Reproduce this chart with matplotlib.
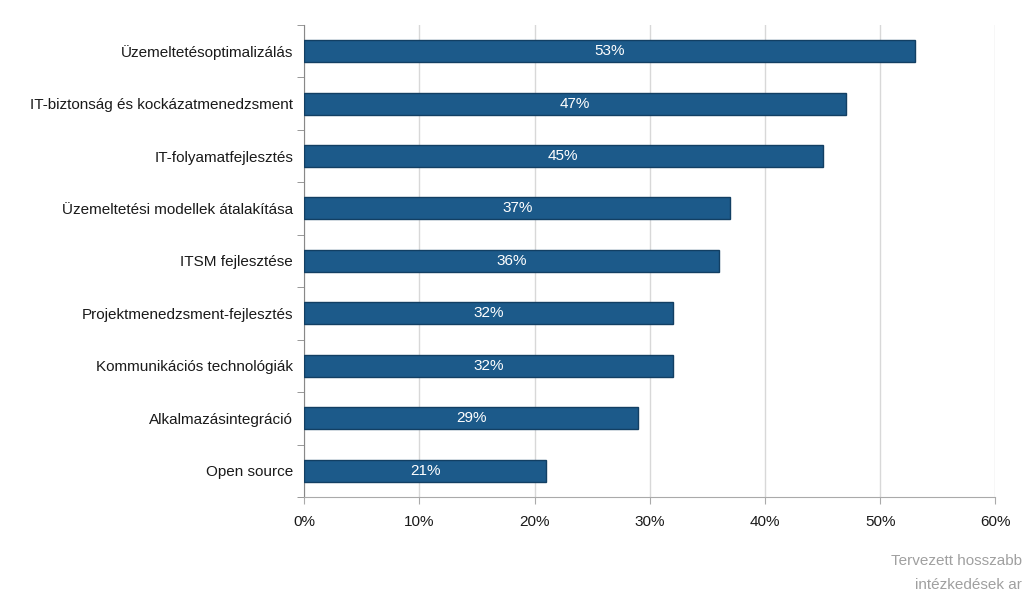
import numpy as np
import matplotlib.pyplot as plt

plt.rcParams['font.family'] = ['Liberation Sans', 'DejaVu Sans']

# ── data ──────────────────────────────────────────────────────────────────────
categories = [
    'Üzemeltetésoptimalizálás',
    'IT-biztonság és kockázatmenedzsment',
    'IT-folyamatfejlesztés',
    'Üzemeltetési modellek átalakítása',
    'ITSM fejlesztése',
    'Projektmenedzsment-fejlesztés',
    'Kommunikációs technológiák',
    'Alkalmazásintegráció',
    'Open source',
]
values = [53, 47, 45, 37, 36, 32, 32, 29, 21]
xticks = [0, 10, 20, 30, 40, 50, 60]
footer = ['Tervezett hosszabb', 'intézkedések ar']

bar_col = '#1c5a8a'
edge_col = '#123f63'

fig = plt.figure(figsize=(10.24, 5.92), dpi=100)
ax = fig.add_axes([0.297, 0.1605, 0.675, 0.7975])

y = np.arange(len(categories))
ax.barh(y, values, height=0.42, color=bar_col, edgecolor=edge_col,
        linewidth=1.0, zorder=3)

for yi, v in zip(y, values):
    ax.text(v / 2, yi, f'{v}%', ha='center', va='center', color='white',
            fontsize=11, zorder=4)

ax.set_ylim(len(categories) - 0.5, -0.5)
ax.set_xlim(0, 60)
ax.set_yticks(y)
ax.set_yticklabels(categories, fontsize=11, color='#1a1a1a')
ax.tick_params(axis='y', which='major', length=0, pad=8)
# ticks between categories
ax.set_yticks(np.arange(-0.5, len(categories), 1), minor=True)
ax.tick_params(axis='y', which='minor', length=5, color='#888888', direction='out')

ax.set_xticks(xticks)
ax.set_xticklabels([f'{t}%' for t in xticks], fontsize=11, color='#1a1a1a')
ax.tick_params(axis='x', length=5, color='#aaaaaa', pad=8)

ax.grid(axis='x', color='#d8d8d8', linewidth=1.0, zorder=0)
for s in ['top', 'right']:
    ax.spines[s].set_visible(False)
ax.spines['left'].set_color('#888888')
ax.spines['bottom'].set_color('#aaaaaa')

fig.text(0.998, 0.052, footer[0], ha='right', va='center', fontsize=11, color='#a0a0a0')
fig.text(0.998, 0.012, footer[1], ha='right', va='center', fontsize=11, color='#a0a0a0')

fig.savefig('out.png', dpi=100, facecolor='white')
